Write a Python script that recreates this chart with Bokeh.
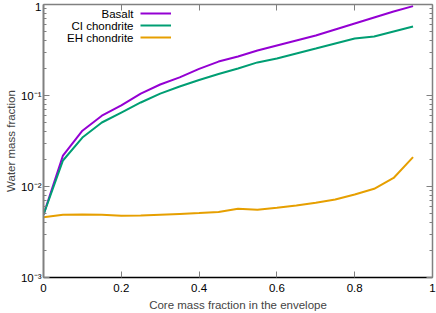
from bokeh.plotting import figure
from bokeh.models import (Range1d, FixedTicker, LogAxis, LinearAxis, Legend, LegendItem, Label)
from bokeh.embed import file_html
from bokeh.resources import INLINE

core_fraction = [0.0, 0.05, 0.1, 0.15, 0.2, 0.25, 0.3, 0.35, 0.4, 0.45, 0.5,
                 0.55, 0.6, 0.65, 0.7, 0.75, 0.8, 0.85, 0.9, 0.95]
basalt = [0.0049, 0.0219, 0.041, 0.060, 0.078, 0.105, 0.132, 0.158, 0.196, 0.236, 0.268,
          0.312, 0.354, 0.402, 0.456, 0.531, 0.618, 0.72, 0.838, 0.96]
ci_chondrite = [0.0049, 0.0193, 0.0345, 0.0505, 0.065, 0.0838, 0.105, 0.1256, 0.148, 0.172, 0.198,
                0.231, 0.255, 0.290, 0.328, 0.373, 0.423, 0.445, 0.505, 0.573]
eh_chondrite = [0.0046, 0.00489, 0.00492, 0.0049, 0.00476, 0.0048, 0.0049, 0.0050, 0.0051, 0.00525, 0.00569,
                0.00556, 0.00583, 0.00618, 0.00664, 0.0072, 0.00817, 0.00944, 0.0124, 0.021]

series_names = ["Basalt", "CI chondrite", "EH chondrite"]
series_colors = ["#9400d3", "#009e73", "#e69f00"]

x_ticks = [0, 0.2, 0.4, 0.6, 0.8, 1]
x_tick_labels = ["0", "0.2", "0.4", "0.6", "0.8", "1"]
y_ticks = [0.001, 0.01, 0.1, 1]
y_tick_labels = ["10\u207b\u00b3", "10\u207b\u00b2", "10\u207b\u00b9", "1"]
y_minor = [m * d for d in [0.001, 0.01, 0.1] for m in range(2, 10)]

FONT = "Liberation Sans"
FS = "11.5px"
GRAY = "#808080"
W, H = 436, 313
BL, BR, BT, BB = 43, 4, 4, 36

p = figure(width=W, height=H, output_backend="svg", toolbar_location=None,
           y_axis_type="log", x_range=Range1d(0, 1), y_range=Range1d(0.001, 1),
           min_border_left=BL, min_border_right=BR, min_border_top=BT, min_border_bottom=BB)
p.outline_line_color = None
p.xgrid.visible = False
p.ygrid.visible = False

renderers = []
for ys, c in zip([basalt, ci_chondrite, eh_chondrite], series_colors):
    renderers.append(p.line(core_fraction, ys, line_color=c, line_width=2))

xt = FixedTicker(ticks=x_ticks)
yt = FixedTicker(ticks=y_ticks, minor_ticks=y_minor)
x_over = {k: v for k, v in zip(x_ticks, x_tick_labels)}
y_over = {k: v for k, v in zip(y_ticks, y_tick_labels)}

def style_x(ax, labels=True):
    ax.ticker = xt
    ax.major_tick_in = 6
    ax.major_tick_out = 0
    ax.minor_tick_line_color = None
    ax.major_tick_line_color = GRAY
    if labels:
        ax.major_label_text_font = FONT
        ax.major_label_text_font_size = FS
        ax.major_label_text_color = "black"
        ax.major_label_overrides = x_over
        ax.major_label_standoff = 6
    else:
        ax.major_label_text_color = None
        ax.major_label_standoff = 0

def style_y(ax, labels=True):
    ax.ticker = yt
    ax.major_tick_in = 6
    ax.major_tick_out = 0
    ax.minor_tick_in = 3
    ax.minor_tick_out = 0
    ax.major_tick_line_color = GRAY
    ax.minor_tick_line_color = GRAY
    if labels:
        ax.major_label_text_font = FONT
        ax.major_label_text_font_size = FS
        ax.major_label_text_color = "black"
        ax.major_label_overrides = y_over
        ax.major_label_standoff = 2
    else:
        ax.major_label_text_color = None
        ax.major_label_standoff = 0

xb = p.xaxis[0]
style_x(xb)
xb.axis_line_color = "black"
xb.axis_line_width = 1.5
xb.axis_label = "Core mass fraction in the envelope"
xb.axis_label_text_font = FONT
xb.axis_label_text_font_size = FS
xb.axis_label_text_font_style = "normal"
xb.axis_label_standoff = 4

yl = p.yaxis[0]
style_y(yl)
yl.axis_line_color = GRAY
yl.axis_line_width = 2
yl.axis_label = "Water mass fraction"
yl.axis_label_text_font = FONT
yl.axis_label_text_font_size = FS
yl.axis_label_text_font_style = "normal"
yl.axis_label_standoff = 1

xtop = LinearAxis()
style_x(xtop, labels=False)
xtop.axis_line_color = GRAY
xtop.axis_line_width = 1.5
p.add_layout(xtop, "above")

yr = LogAxis()
style_y(yr, labels=False)
yr.axis_line_color = GRAY
yr.axis_line_width = 1.5
p.add_layout(yr, "right")

# legend: line samples via Legend, right-aligned names via Labels
frame_h = H - BT - BB
items = [LegendItem(label=" ", renderers=[r]) for r in renderers]
leg = Legend(items=items, location=(97, frame_h - 3 - 36), glyph_width=31, glyph_height=12,
             label_width=0, label_standoff=0, spacing=0, padding=0, margin=0,
             label_text_font_size="6px", background_fill_alpha=0, border_line_alpha=0)
p.add_layout(leg, "center")
for i, name in enumerate(series_names):
    p.add_layout(Label(x=90, y=frame_h - 9 - 12 * i, x_units="screen", y_units="screen",
                       text=name, text_align="right", text_baseline="middle",
                       text_font=FONT, text_font_size=FS, text_color="black"))

open("out.html", "w").write(file_html(p, INLINE))
